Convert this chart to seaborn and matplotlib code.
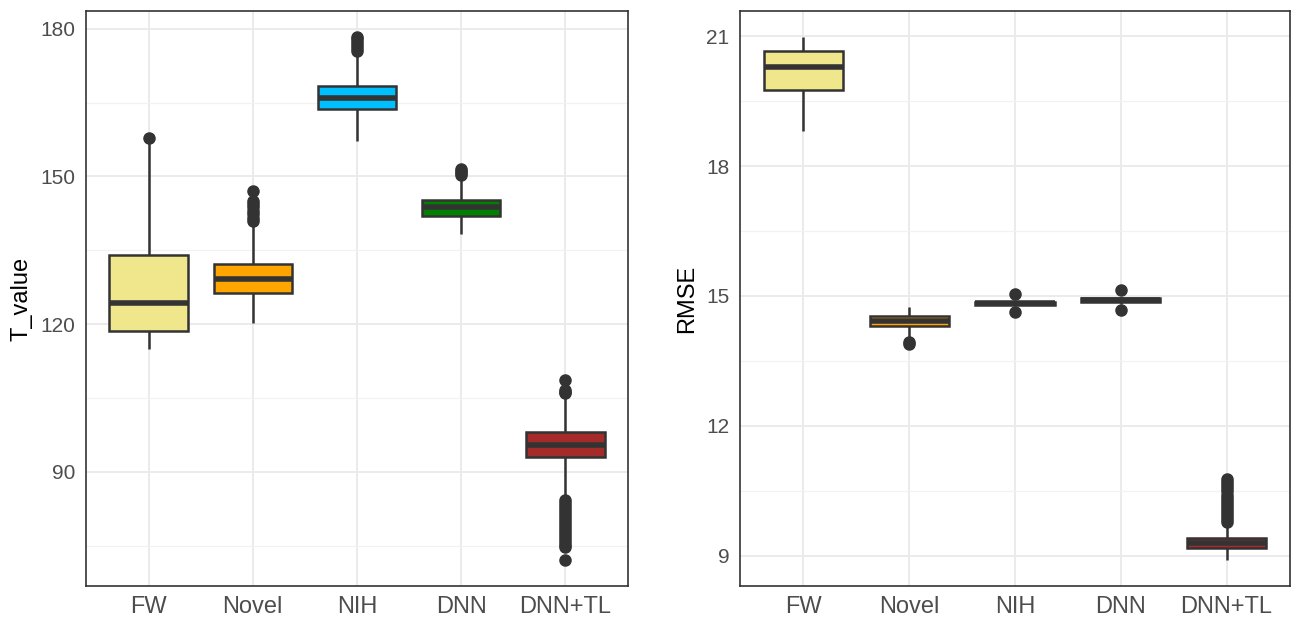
#!/usr/bin/env python3
"""Box plots of T_value and RMSE for the five models."""
import pandas as pd
import matplotlib
matplotlib.use("Agg")
import matplotlib.pyplot as plt
from matplotlib.ticker import FixedLocator
import seaborn as sns

models = ["FW", "Novel", "NIH", "DNN", "DNN+TL"]
colors = ["#F0E68C", "#FFA500", "#00BFFF", "#008000", "#A52A2A"]

# T_value box statistics
t_whislo = [114.9, 120.3, 157.3, 138.3, 85.3]
t_q1 = [118.5, 126.4, 163.8, 142.0, 92.9]
t_median = [124.3, 129.1, 166.0, 143.8, 95.4]
t_q3 = [134.1, 132.2, 168.4, 145.2, 98.0]
t_whishi = [157.0, 140.5, 174.8, 149.7, 105.3]
t_out_lo = [[], [], [], [],
            [84.2, 83.6, 83.0, 82.4, 81.8, 81.2, 80.6, 80.0, 79.4, 78.8,
             78.2, 77.6, 77.0, 76.4, 75.8, 75.2, 74.8, 72.1]]
t_out_hi = [[157.8],
            [141.0, 141.6, 142.3, 143.0, 143.7, 144.4, 145.1, 147.1],
            [175.5, 176.1, 176.7, 177.3, 177.9, 178.3],
            [150.3, 150.7, 151.1, 151.6],
            [105.9, 106.3, 106.7, 108.6]]

# RMSE box statistics
r_whislo = [18.80, 14.02, 14.76, 14.82, 8.90]
r_q1 = [19.75, 14.30, 14.78, 14.85, 9.18]
r_median = [20.29, 14.42, 14.83, 14.90, 9.30]
r_q3 = [20.65, 14.54, 14.87, 14.95, 9.40]
r_whishi = [20.98, 14.75, 14.89, 14.98, 9.70]
r_out_lo = [[], [13.93, 13.89], [14.62], [14.68], []]
r_out_hi = [[], [], [15.04], [15.13],
            [9.78, 9.85, 9.92, 9.99, 10.06, 10.13, 10.20, 10.27, 10.34,
             10.41, 10.48, 10.55, 10.62, 10.69, 10.76]]

t_ticks = [90, 120, 150, 180]
r_ticks = [9, 12, 15, 18, 21]


def sample_from_stats(lo, q1, med, q3, hi, out_lo, out_hi, m=60):
    """Values whose quartiles and whiskers equal the given box stats."""
    return (list(out_lo) + [lo] + [q1] * m + [med] * m + [q3] * m
            + [hi] + list(out_hi))


def build_frame(whislo, q1, med, q3, whishi, out_lo, out_hi):
    rows = []
    for i, name in enumerate(models):
        vals = sample_from_stats(whislo[i], q1[i], med[i], q3[i], whishi[i],
                                 out_lo[i], out_hi[i])
        rows.extend({"model": name, "value": v} for v in vals)
    return pd.DataFrame(rows)


def draw_panel(ax, df, ylabel, ticks):
    sns.boxplot(
        data=df, x="model", y="value", hue="model", order=models,
        hue_order=models, palette=colors, saturation=1, legend=False, ax=ax,
        width=0.75, linewidth=1.8, linecolor="#333333", showcaps=False,
        whis=1.5,
        medianprops=dict(linewidth=4, color="#333333"),
        flierprops=dict(marker="o", markersize=8, markerfacecolor="#333333",
                        markeredgecolor="#333333"),
    )
    vmin, vmax = df["value"].min(), df["value"].max()
    pad = 0.05 * (vmax - vmin)
    ax.set_ylim(vmin - pad, vmax + pad)
    ax.set_xlim(-0.6, len(models) - 0.4)

    step = ticks[1] - ticks[0]
    ax.yaxis.set_major_locator(FixedLocator(ticks))
    ax.yaxis.set_minor_locator(FixedLocator(
        [ticks[0] - step / 2] + [t + step / 2 for t in ticks]))
    ax.set_axisbelow(True)
    ax.grid(True, which="major", color="#EBEBEB", linewidth=1.4)
    ax.grid(True, which="minor", axis="y", color="#F2F2F2", linewidth=0.9)

    ax.set_xlabel("")
    ax.set_ylabel(ylabel, fontsize=17, color="black", labelpad=6)
    ax.tick_params(axis="x", labelsize=17, colors="#333333",
                   labelcolor="#4D4D4D", length=4.5, width=1.2, pad=3)
    ax.tick_params(axis="y", labelsize=15, colors="#333333",
                   labelcolor="#4D4D4D", length=4.5, width=1.2, pad=3)
    ax.tick_params(axis="y", which="minor", length=0)
    for spine in ax.spines.values():
        spine.set_visible(True)
        spine.set_color("#333333")
        spine.set_linewidth(1.2)


def main():
    sns.set_theme(style="white")
    plt.rcParams["font.family"] = ["Liberation Sans", "DejaVu Sans"]

    t_df = build_frame(t_whislo, t_q1, t_median, t_q3, t_whishi,
                       t_out_lo, t_out_hi)
    r_df = build_frame(r_whislo, r_q1, r_median, r_q3, r_whishi,
                       r_out_lo, r_out_hi)

    fig = plt.figure(figsize=(12.93, 6.23), dpi=100)
    ax_left = fig.add_axes([86 / 1293, 37 / 623, 542 / 1293, 575 / 623])
    ax_right = fig.add_axes([740 / 1293, 37 / 623, 550 / 1293, 575 / 623])

    draw_panel(ax_left, t_df, "T_value", t_ticks)
    draw_panel(ax_right, r_df, "RMSE", r_ticks)

    fig.savefig("out.png", dpi=100, facecolor="white")
    plt.close(fig)


if __name__ == "__main__":
    main()
